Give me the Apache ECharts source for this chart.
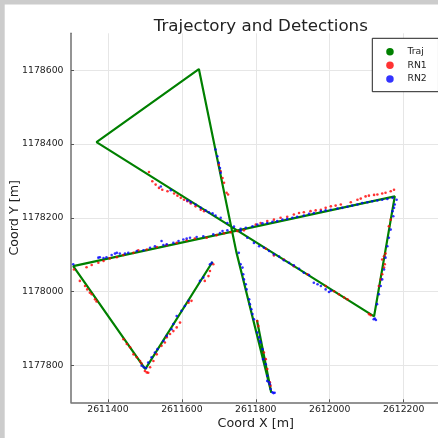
<!DOCTYPE html>
<html>
<head>
<meta charset="utf-8">
<script src="https://cdn.jsdelivr.net/npm/echarts@6.0.0/dist/echarts.min.js"></script>
<style>
html, body { margin: 0; padding: 0; background: #fff; }
#chart { width: 438px; height: 438px; }
</style>
</head>
<body>
<div id="chart"></div>
<script>
// 轨迹拐点 [x, y]，按行驶顺序
var traj = [
    [2611683, 1178081], [2611501, 1177790], [2611306, 1178069], [2612176, 1178258],
    [2612120, 1177933], [2611369, 1178405], [2611646, 1178603], [2611747, 1178109],
    [2611842, 1177726], [2611803, 1177923]
];

// RN1 检测点
var rn1 = [
    [2612174, 1178276], [2612165, 1178272], [2612151, 1178268], [2612142, 1178266],
    [2612129, 1178263], [2612120, 1178262], [2612106, 1178260], [2612097, 1178258],
    [2612084, 1178252], [2612075, 1178249], [2612057, 1178242], [2612030, 1178236],
    [2612016, 1178233], [2612003, 1178231], [2611989, 1178227], [2611976, 1178222],
    [2611962, 1178220], [2611948, 1178218], [2611930, 1178215], [2611917, 1178213],
    [2611903, 1178209], [2611885, 1178203], [2611867, 1178200], [2611849, 1178195],
    [2611831, 1178191], [2611813, 1178186], [2611800, 1178182],
    [2611714, 1178158], [2611732, 1178161], [2611750, 1178164], [2611768, 1178166],
    [2611342, 1178066], [2611356, 1178072], [2611374, 1178078], [2611388, 1178083],
    [2611405, 1178090], [2611424, 1178093], [2611442, 1178099], [2611469, 1178105],
    [2611482, 1178112], [2611505, 1178114], [2611532, 1178121], [2611559, 1178126],
    [2611586, 1178132], [2611613, 1178139], [2611635, 1178144], [2611667, 1178146],
    [2611694, 1178153],
    [2611511, 1178324], [2611520, 1178299], [2611529, 1178290], [2611538, 1178281],
    [2611547, 1178276], [2611561, 1178272], [2611579, 1178266], [2611588, 1178260],
    [2611597, 1178254], [2611606, 1178249], [2611615, 1178245], [2611624, 1178239],
    [2611637, 1178231], [2611651, 1178222], [2611660, 1178218],
    [2611827, 1178116], [2611849, 1178098], [2611876, 1178087], [2611903, 1178069],
    [2611940, 1178047], [2611989, 1178015], [2612012, 1178001], [2612025, 1177993],
    [2612039, 1177984], [2612048, 1177979], [2612106, 1177939], [2612111, 1177936],
    [2612142, 1178087], [2612147, 1178096], [2612151, 1178103], [2612149, 1178074],
    [2612147, 1178065], [2612142, 1178047], [2612138, 1178033], [2612133, 1178015],
    [2612160, 1178177], [2612165, 1178195],
    [2611308, 1178060], [2611324, 1178029], [2611338, 1178015], [2611344, 1178006],
    [2611351, 1177997], [2611356, 1177993], [2611365, 1177979], [2611369, 1177973],
    [2611442, 1177871], [2611451, 1177858], [2611460, 1177849], [2611469, 1177830],
    [2611478, 1177822], [2611487, 1177812], [2611491, 1177805], [2611500, 1177785],
    [2611505, 1177781], [2611509, 1177780], [2611514, 1177795],
    [2611523, 1177812], [2611532, 1177830], [2611545, 1177853], [2611554, 1177862],
    [2611559, 1177876], [2611568, 1177885], [2611577, 1177893], [2611586, 1177903],
    [2611595, 1177916], [2611618, 1177970], [2611626, 1177975], [2611662, 1178029],
    [2611672, 1178042], [2611676, 1178056], [2611685, 1178074],
    [2611700, 1178344], [2611705, 1178326], [2611710, 1178308], [2611714, 1178295],
    [2611721, 1178268], [2611725, 1178263],
    [2611804, 1177920], [2611807, 1177907], [2611822, 1177835], [2611827, 1177817],
    [2611831, 1177790], [2611838, 1177754], [2611840, 1177745]
];

// RN2 检测点
var rn2 = [
    [2611374, 1178092], [2611378, 1178093], [2611388, 1178091], [2611396, 1178093],
    [2611410, 1178099], [2611419, 1178103], [2611424, 1178105], [2611432, 1178103],
    [2611446, 1178103], [2611455, 1178105], [2611478, 1178110], [2611496, 1178112],
    [2611514, 1178119], [2611527, 1178123], [2611545, 1178137], [2611550, 1178126],
    [2611559, 1178128], [2611577, 1178132], [2611591, 1178137], [2611604, 1178141],
    [2611613, 1178144], [2611622, 1178146], [2611640, 1178148], [2611658, 1178150],
    [2611685, 1178155], [2611703, 1178159],
    [2611710, 1178164], [2611723, 1178166], [2611759, 1178170], [2611773, 1178173],
    [2611791, 1178177], [2611804, 1178182], [2611818, 1178185], [2611831, 1178186],
    [2611845, 1178189], [2611858, 1178191], [2611872, 1178195], [2611885, 1178197],
    [2611899, 1178200], [2611912, 1178203], [2611930, 1178206], [2611944, 1178211],
    [2611957, 1178213], [2611976, 1178218], [2611989, 1178220], [2612003, 1178222],
    [2612021, 1178225], [2612034, 1178227], [2612048, 1178230], [2612061, 1178233],
    [2612075, 1178236], [2612088, 1178240], [2612102, 1178242], [2612115, 1178245],
    [2612129, 1178247], [2612142, 1178249], [2612156, 1178251], [2612170, 1178254],
    [2611543, 1178285], [2611570, 1178275], [2611615, 1178247], [2611624, 1178242],
    [2611637, 1178236], [2611651, 1178227], [2611664, 1178220], [2611673, 1178215],
    [2611683, 1178212], [2611691, 1178206], [2611705, 1178200], [2611723, 1178186],
    [2611741, 1178176], [2611759, 1178164], [2611777, 1178146],
    [2611795, 1178132], [2611809, 1178123], [2611822, 1178119], [2611836, 1178110],
    [2611849, 1178101], [2611863, 1178095], [2611876, 1178085], [2611890, 1178078],
    [2611903, 1178071], [2611917, 1178062], [2611930, 1178051], [2611944, 1178045],
    [2611957, 1178024], [2611967, 1178020], [2611976, 1178015], [2611989, 1178006],
    [2611998, 1177999], [2612003, 1178002],
    [2612122, 1177927], [2612125, 1177923], [2612119, 1177925],
    [2612170, 1178218], [2612174, 1178227], [2612176, 1178236], [2612172, 1178204],
    [2612165, 1178168], [2612160, 1178146], [2612156, 1178123], [2612151, 1178092],
    [2612147, 1178060], [2612142, 1178033], [2612138, 1178015], [2612133, 1177993],
    [2612128, 1177966], [2612181, 1178249],
    [2611306, 1178074], [2611491, 1177799], [2611497, 1177795],
    [2611509, 1177808], [2611518, 1177822], [2611527, 1177835], [2611534, 1177844],
    [2611550, 1177866], [2611559, 1177880], [2611572, 1177898], [2611577, 1177912],
    [2611586, 1177934], [2611599, 1177948], [2611608, 1177961], [2611618, 1177975],
    [2611649, 1178029], [2611658, 1178038], [2611676, 1178074], [2611681, 1178078],
    [2611503, 1177793],
    [2611691, 1178385], [2611696, 1178367], [2611700, 1178349], [2611703, 1178335],
    [2611705, 1178322],
    [2611754, 1178105], [2611759, 1178074], [2611764, 1178065], [2611766, 1178047],
    [2611768, 1178033], [2611773, 1178020], [2611775, 1178006], [2611782, 1177979],
    [2611784, 1177966], [2611788, 1177952], [2611791, 1177939], [2611795, 1177925],
    [2611804, 1177889], [2611809, 1177876], [2611813, 1177862], [2611818, 1177844],
    [2611831, 1177772], [2611836, 1177754], [2611840, 1177736], [2611845, 1177727],
    [2611848, 1177725],
    [2611811, 1177866], [2611820, 1177817], [2611827, 1177803], [2611831, 1177758],
    [2611838, 1177749], [2611851, 1177726]
];

var FONT = 'DejaVu Sans';
var TEXT_COLOR = '#222';

// 刻度标签不要千分位逗号
function plainLabel(v) {
    return String(v);
}

var chart = echarts.init(document.getElementById('chart'), null, {renderer: 'canvas'});

var option = {
    animation: false,
    backgroundColor: '#fff',
    textStyle: { fontFamily: FONT },
    title: {
        text: 'Trajectory and Detections',
        left: 255.8,
        top: 13,
        textAlign: 'center',
        textStyle: { fontSize: 16.7, fontWeight: 'normal', color: TEXT_COLOR, fontFamily: FONT }
    },
    // 左侧和顶部的灰色边框
    graphic: [
        { type: 'rect', left: 0, top: 0, shape: { width: 438, height: 4.5 }, style: { fill: '#cccccc' }, z: 100 },
        { type: 'rect', left: 0, top: 0, shape: { width: 4.7, height: 438 }, style: { fill: '#cccccc' }, z: 100 }
    ],
    legend: {
        data: [
            { name: 'Traj', icon: 'circle' },
            { name: 'RN1', icon: 'circle' },
            { name: 'RN2', icon: 'circle' }
        ],
        orient: 'vertical',
        left: 372.3,
        top: 38.3,
        itemWidth: 25,
        itemHeight: 7.5,
        itemGap: 3.65,
        padding: [8.4, 11.7, 7.7, 13.9],
        borderColor: '#222',
        borderWidth: 1,
        borderRadius: 0,
        backgroundColor: '#fff',
        textStyle: { fontSize: 9.3, lineHeight: 10, color: TEXT_COLOR, fontFamily: FONT }
    },
    grid: {
        left: 71,
        top: 33.3,
        width: 369.6,
        height: 369,
        containLabel: false,
        outerBoundsMode: 'none'
    },
    xAxis: {
        type: 'value',
        min: 2611300,
        max: 2612300,
        splitNumber: 5,
        name: 'Coord X [m]',
        nameLocation: 'middle',
        nameGap: 14.5,
        nameMoveOverlap: false,
        nameTextStyle: { fontSize: 12.7, color: TEXT_COLOR, fontFamily: FONT },
        axisLine: { show: true, onZero: false, lineStyle: { color: '#707070', width: 1.5 } },
        axisTick: { show: true, inside: true, length: 3, lineStyle: { color: '#555' } },
        axisLabel: { margin: 3, fontSize: 9.3, color: TEXT_COLOR, fontFamily: FONT, showMinLabel: false, showMaxLabel: false, formatter: plainLabel },
        splitLine: { show: true, showMinLine: false, showMaxLine: false, lineStyle: { color: '#e6e6e6', width: 1 } }
    },
    yAxis: {
        type: 'value',
        min: 1177700,
        max: 1178700,
        splitNumber: 5,
        name: 'Coord Y [m]',
        nameLocation: 'middle',
        nameGap: 50,
        nameMoveOverlap: false,
        nameTextStyle: { fontSize: 12.7, color: TEXT_COLOR, fontFamily: FONT },
        axisLine: { show: true, onZero: false, lineStyle: { color: '#707070', width: 1.5 } },
        axisTick: { show: true, inside: true, length: 3, lineStyle: { color: '#555' } },
        axisLabel: { margin: 7.5, fontSize: 9.3, color: TEXT_COLOR, fontFamily: FONT, showMinLabel: false, showMaxLabel: false, formatter: plainLabel },
        splitLine: { show: true, showMinLine: false, showMaxLine: false, lineStyle: { color: '#e6e6e6', width: 1 } }
    },
    series: [
        {
            name: 'Traj',
            type: 'line',
            data: traj,
            showSymbol: false,
            symbol: 'circle',
            color: '#008000',
            lineStyle: { color: '#008000', width: 2.2 },
            z: 2
        },
        {
            name: 'RN1',
            type: 'scatter',
            data: rn1,
            symbol: 'circle',
            symbolSize: 2.6,
            itemStyle: { color: '#ff0000' },
            z: 3
        },
        {
            name: 'RN2',
            type: 'scatter',
            data: rn2,
            symbol: 'circle',
            symbolSize: 2.6,
            itemStyle: { color: '#0000ff' },
            z: 4
        }
    ]
};

chart.setOption(option);
</script>
</body>
</html>
